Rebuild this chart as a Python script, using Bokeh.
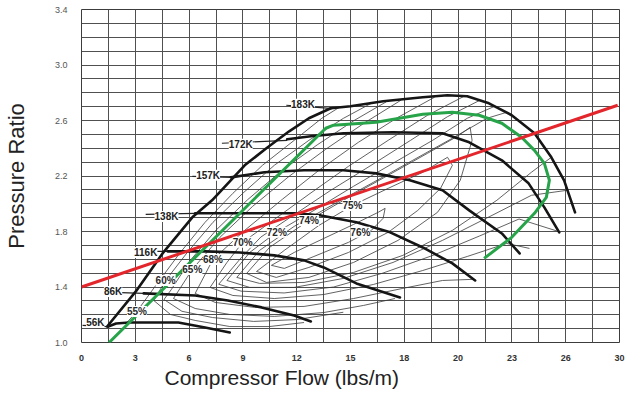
from bokeh.plotting import figure
from bokeh.models import FixedTicker, ColumnDataSource, LabelSet, Title, Range1d
from bokeh.core.properties import value
from bokeh.embed import file_html
from bokeh.resources import INLINE

# ---------------- data ----------------
x_ticks = [0, 3, 6, 9, 12, 15, 18, 21, 24, 27, 30]
x_tick_labels = ["0", "3", "6", "9", "12", "15", "18", "20", "23", "26", "30"]
y_ticks = [1.0, 1.4, 1.8, 2.2, 2.6, 3.0, 3.4]
y_tick_labels = ["1.0", "1.4", "1.8", "2.2", "2.6", "3.0", "3.4"]

# surge line
surge_x = [1.43, 3.03, 4.52, 6.18, 7.28, 8.27, 9.10, 10.31, 11.58, 12.68, 13.90]
surge_y = [1.115, 1.368, 1.642, 1.902, 2.025, 2.162, 2.277, 2.400, 2.522, 2.616, 2.688]

# speed lines
k183_x = [13.90, 15.00, 16.82, 19.03, 20.40, 21.51, 22.72, 23.99, 25.26, 26.20, 26.91, 27.52]
k183_y = [2.688, 2.703, 2.739, 2.768, 2.782, 2.775, 2.724, 2.638, 2.508, 2.335, 2.169, 1.938]
k172_x = [11.47, 12.79, 14.61, 17.37, 20.13, 21.62, 23.44, 24.93, 25.81, 26.64]
k172_y = [2.465, 2.486, 2.508, 2.515, 2.508, 2.443, 2.313, 2.147, 1.974, 1.794]
k157_x = [8.33, 10.20, 12.41, 14.61, 16.43, 18.31, 20.13, 21.62, 23.44, 24.43]
k157_y = [2.190, 2.227, 2.241, 2.241, 2.219, 2.169, 2.097, 1.952, 1.786, 1.642]
k138_x = [6.34, 9.10, 11.86, 13.35, 15.33, 17.21, 19.03, 20.68, 21.95]
k138_y = [1.931, 1.931, 1.931, 1.916, 1.866, 1.794, 1.685, 1.570, 1.447]
k116_x = [4.80, 6.89, 8.82, 10.75, 12.41, 13.51, 15.33, 17.76]
k116_y = [1.657, 1.657, 1.649, 1.628, 1.592, 1.541, 1.426, 1.325]
k86_x = [3.47, 6.34, 8.16, 10.04, 11.86, 12.79]
k86_y = [1.354, 1.339, 1.303, 1.253, 1.195, 1.152]
k56_x = [1.49, 1.93, 2.65, 5.40, 6.89, 8.27]
k56_y = [1.115, 1.137, 1.144, 1.144, 1.108, 1.072]

speed_names = ["56K", "86K", "116K", "138K", "157K", "172K", "183K"]
speed_label_x = [0.77, 1.76, 3.58, 4.74, 7.06, 8.88, 12.35]
speed_label_y = [1.144, 1.368, 1.649, 1.909, 2.205, 2.429, 2.717]
leader_x0 = [0.06, 1.76, 3.00, 3.58, 6.18, 7.83, 11.42]
leader_y0 = [1.123, 1.361, 1.657, 1.923, 2.198, 2.436, 2.710]
leader_x1 = [1.43, 3.47, 4.80, 6.34, 8.44, 11.47, 13.90]
leader_y1 = [1.115, 1.354, 1.657, 1.931, 2.190, 2.457, 2.688]

# efficiency contours
c55_x = [2.48, 3.09, 4.14, 5.51, 6.89, 8.44, 10.09, 11.86, 13.40, 14.39]
c55_y = [1.137, 1.224, 1.411, 1.649, 1.866, 2.075, 2.277, 2.457, 2.616, 2.696]
c60_x = [16.16, 14.61, 12.68, 10.75, 8.99, 7.33, 5.90, 4.69, 4.03, 4.96, 6.34, 8.27, 10.48, 12.41]
c60_y = [2.724, 2.616, 2.457, 2.277, 2.075, 1.866, 1.649, 1.447, 1.303, 1.202, 1.159, 1.115, 1.115, 1.144]
c62_x = [17.00, 15.20, 13.15, 11.16, 9.27, 7.52, 6.04, 5.00, 4.60, 5.60, 7.30, 9.60, 12.00, 14.60]
c62_y = [2.735, 2.600, 2.425, 2.238, 2.030, 1.812, 1.588, 1.380, 1.310, 1.225, 1.180, 1.152, 1.165, 1.218]
c65_x = [17.81, 15.83, 13.62, 11.58, 9.54, 7.72, 6.18, 5.13, 6.34, 8.27, 10.75, 13.51, 15.72, 17.48]
c65_y = [2.746, 2.587, 2.393, 2.198, 1.981, 1.758, 1.527, 1.317, 1.245, 1.202, 1.188, 1.216, 1.267, 1.317]
c68_x = [19.69, 17.65, 15.44, 13.24, 11.20, 9.10, 7.33, 6.34, 7.45, 9.65, 12.41, 15.17, 17.92, 20.13, 21.78]
c68_y = [2.768, 2.623, 2.443, 2.241, 2.032, 1.808, 1.599, 1.354, 1.289, 1.253, 1.260, 1.317, 1.390, 1.447, 1.455]
c70_x = [21.34, 19.30, 17.10, 14.89, 12.68, 10.75, 8.99, 8.11, 7.17, 8.44, 10.75, 13.51, 16.27, 19.03, 21.51, 23.71, 24.98]
c70_y = [2.775, 2.638, 2.457, 2.270, 2.068, 1.887, 1.722, 1.577, 1.397, 1.339, 1.317, 1.346, 1.418, 1.519, 1.620, 1.714, 1.678]
c71_x = [22.20, 20.40, 18.35, 16.20, 13.90, 11.85, 10.00, 8.90, 7.65, 8.90, 11.30, 14.06, 16.80, 19.60, 22.20, 24.40, 26.60]
c71_y = [2.745, 2.627, 2.457, 2.281, 2.097, 1.920, 1.760, 1.610, 1.420, 1.370, 1.357, 1.400, 1.500, 1.628, 1.768, 1.890, 1.800]
c72_x = [23.00, 21.51, 19.58, 17.37, 15.17, 12.96, 10.86, 9.38, 8.11, 9.38, 11.86, 14.61, 17.37, 20.13, 22.89, 25.09, 27.08]
c72_y = [2.700, 2.616, 2.457, 2.292, 2.126, 1.952, 1.794, 1.649, 1.447, 1.397, 1.397, 1.462, 1.577, 1.736, 1.916, 2.061, 2.097]
c73_x = [23.71, 22.61, 20.68, 18.47, 16.27, 14.06, 11.86, 9.93, 8.66, 9.93, 12.41, 15.17, 17.92, 20.68, 23.16, 25.09, 26.20]
c73_y = [2.659, 2.616, 2.472, 2.313, 2.154, 1.996, 1.837, 1.664, 1.469, 1.426, 1.433, 1.505, 1.628, 1.808, 2.025, 2.227, 2.335]
c74_x = [9.21, 10.48, 12.68, 14.89, 17.10, 19.30, 20.96, 21.67, 21.78, 21.12, 19.85, 17.65, 15.17, 12.68, 10.31, 9.21]
c74_y = [1.498, 1.685, 1.880, 2.046, 2.205, 2.364, 2.486, 2.551, 2.457, 2.169, 1.938, 1.736, 1.577, 1.469, 1.433, 1.498]
c75_x = [9.76, 11.31, 13.24, 15.11, 17.10, 19.03, 20.41, 20.68, 20.02, 18.75, 17.10, 14.89, 12.68, 10.86, 9.76]
c75_y = [1.512, 1.664, 1.844, 1.988, 2.111, 2.227, 2.335, 2.277, 2.111, 1.952, 1.794, 1.649, 1.541, 1.469, 1.512]
c76_x = [10.59, 11.86, 13.51, 15.17, 16.54, 16.93, 16.82, 16.16, 14.89, 12.96, 11.31, 10.59]
c76_y = [1.556, 1.649, 1.750, 1.851, 1.938, 1.967, 1.895, 1.808, 1.722, 1.620, 1.534, 1.556]

pct_names = ["55%", "60%", "65%", "68%", "70%", "72%", "74%", "75%", "76%"]
pct_x = [3.09, 4.69, 6.18, 7.33, 8.99, 10.89, 12.68, 15.11, 15.55]
pct_y = [1.224, 1.447, 1.527, 1.599, 1.722, 1.794, 1.880, 1.988, 1.794]

# operating lines
green_x = [1.54, 13.62, 14.06, 16.43, 19.03, 20.68, 22.17, 23.44, 24.54, 25.26, 25.81, 26.09, 25.92, 25.26, 23.99, 22.45]
green_y = [1.000, 2.544, 2.566, 2.587, 2.645, 2.659, 2.638, 2.580, 2.479, 2.385, 2.291, 2.169, 2.046, 1.931, 1.758, 1.606]
red_x = [0.0, 29.9]
red_y = [1.40, 2.71]

x_title = "Compressor Flow (lbs/m)"
y_title = "Pressure Ratio"

# ---------------- figure ----------------
FONT = "Liberation Sans"
p = figure(width=640, height=395, x_range=Range1d(0, 30), y_range=Range1d(1.0, 3.4),
           output_backend="svg", toolbar_location=None,
           min_border_left=75, min_border_right=21, min_border_top=9, min_border_bottom=53)
p.background_fill_color = "white"
p.border_fill_color = "white"
p.outline_line_color = "#3c3c3c"
p.outline_line_width = 1

grid_col = "#505050"
p.xgrid.ticker = FixedTicker(ticks=[i * 1.5 for i in range(21)])
p.ygrid.ticker = FixedTicker(ticks=[round(1.0 + 0.1 * i, 1) for i in range(25)])
for g in (p.xgrid, p.ygrid):
    g.grid_line_color = grid_col
    g.grid_line_alpha = 1.0
    g.grid_line_width = 1

p.xaxis.ticker = FixedTicker(ticks=x_ticks)
p.xaxis.major_label_overrides = {t: l for t, l in zip(x_ticks, x_tick_labels)}
p.yaxis.ticker = FixedTicker(ticks=y_ticks)
p.yaxis.major_label_overrides = {t: l for t, l in zip(y_ticks, y_tick_labels)}
for ax in (p.xaxis[0], p.yaxis[0]):
    ax.axis_line_color = None
    ax.major_tick_line_color = None
    ax.minor_tick_line_color = None
    ax.major_label_text_font = FONT
    ax.major_label_text_font_size = "9px"
p.xaxis.major_label_text_font_style = "bold"
p.xaxis.major_label_text_color = "#333333"
p.xaxis.major_label_standoff = 6
p.yaxis.major_label_text_color = "#555555"
p.yaxis.major_label_standoff = 8

p.yaxis.axis_label = y_title
p.yaxis.axis_label_text_font = FONT
p.yaxis.axis_label_text_font_size = "22px"
p.yaxis.axis_label_text_font_style = "normal"
p.yaxis.axis_label_text_color = "#222222"
p.yaxis.axis_label_standoff = 23

xt = Title(text=x_title, align="left", offset=83,
           text_font=FONT, text_font_size="21px", text_font_style="normal",
           text_color="#222222", standoff=0)
p.add_layout(xt, "below")

# efficiency contours
cxs = [c55_x, c60_x, c62_x, c65_x, c68_x, c70_x, c71_x, c72_x, c73_x, c74_x, c75_x, c76_x]
cys = [c55_y, c60_y, c62_y, c65_y, c68_y, c70_y, c71_y, c72_y, c73_y, c74_y, c75_y, c76_y]
p.multi_line(xs=cxs, ys=cys, line_color="#3a3a3a", line_width=0.8)

# leaders
p.segment(x0=leader_x0, y0=leader_y0, x1=leader_x1, y1=leader_y1,
          line_color="#222222", line_width=1.2)

# speed lines + surge
sxs = [surge_x, k183_x, k172_x, k157_x, k138_x, k116_x, k86_x, k56_x]
sys_ = [surge_y, k183_y, k172_y, k157_y, k138_y, k116_y, k86_y, k56_y]
p.multi_line(xs=sxs, ys=sys_, line_color="#151515", line_width=2.6,
             line_join="round", line_cap="round")

p.line(green_x, green_y, line_color="#27a449", line_width=3, line_join="round")
p.line(red_x, red_y, line_color="#e3262c", line_width=3)

speed_src = ColumnDataSource(dict(x=speed_label_x, y=speed_label_y, t=speed_names))
p.add_layout(LabelSet(x="x", y="y", text="t", source=speed_src,
                      text_align="center", text_baseline="middle",
                      text_font=value(FONT), text_font_size="10px", text_font_style="bold",
                      text_color="#222222", background_fill_color="white"))
pct_src = ColumnDataSource(dict(x=pct_x, y=pct_y, t=pct_names))
p.add_layout(LabelSet(x="x", y="y", text="t", source=pct_src,
                      text_align="center", text_baseline="middle",
                      text_font=value(FONT), text_font_size="10px", text_font_style="bold",
                      text_color="#2a2a2a", background_fill_color="white"))

open("out.html", "w").write(file_html(p, INLINE))
